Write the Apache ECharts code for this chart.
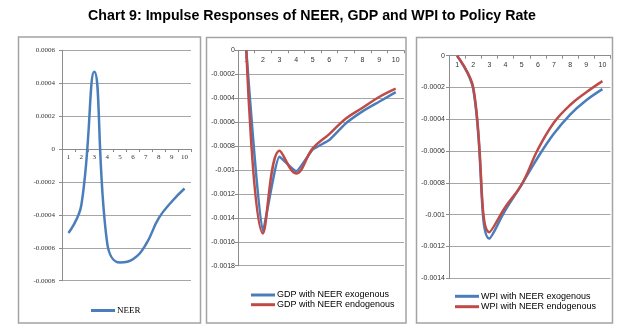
<!DOCTYPE html>
<html>
<head>
<meta charset="utf-8">
<script src="https://cdn.jsdelivr.net/npm/echarts@6/dist/echarts.min.js"></script>
<style>
  html, body { margin: 0; padding: 0; background: #fff; }
  #chart { width: 624px; height: 334px; }
</style>
</head>
<body>
<div id="chart"></div>
<script>
// Impulse response horizons (periods)
const periods = ['1', '2', '3', '4', '5', '6', '7', '8', '9', '10'];

// NEER response to a policy-rate shock
const neer = [-0.00051, -0.00034, 0.00047, -0.00057, -0.00069, -0.00067, -0.00058, -0.00042, -0.00032, -0.00024];

// GDP response, NEER treated as exogenous / endogenous
const gdpExogenous  = [0, -0.00151, -0.00089, -0.00101, -0.00083, -0.00075, -0.00061, -0.00051, -0.00043, -0.00035];
const gdpEndogenous = [0, -0.00153, -0.00084, -0.00103, -0.00082, -0.00070, -0.00057, -0.00048, -0.00039, -0.00032];

// WPI response, NEER treated as exogenous / endogenous
const wpiExogenous  = [0, -0.00021, -0.00115, -0.00097, -0.00081, -0.00064, -0.00049, -0.00037, -0.00028, -0.00021];
const wpiEndogenous = [0, -0.00020, -0.00111, -0.00095, -0.00081, -0.00059, -0.00042, -0.00031, -0.00023, -0.00016];

// Value-axis ranges for the three panels
const yRanges = [
  { min: -0.0008, max: 0.0006 },
  { min: -0.0018, max: 0 },
  { min: -0.0014, max: 0 }
];

// Plot areas of the three panels
const grids = [
  { left: 62, top: 50.3, width: 129, height: 230.4 },
  { left: 238, top: 50.3, width: 166, height: 215.4 },
  { left: 449, top: 55.7, width: 161.5, height: 222.6 }
];

const BLUE = '#4a7ebb';
const RED = '#be4b48';
const SERIF = '"Liberation Serif", "DejaVu Serif", serif';
const SANS = '"Liberation Sans", Arial, sans-serif';

const fmt = v => String(parseFloat(v.toFixed(6)));

// The category axis crosses the value axis at zero; lift it from the bottom edge to that level
function zeroOffset(idx) {
  const r = yRanges[idx];
  return -grids[idx].height * (0 - r.min) / (r.max - r.min);
}

function xAxisFor(idx, font, margin) {
  return {
    type: 'category', gridIndex: idx, data: periods, boundaryGap: true,
    position: 'bottom', offset: zeroOffset(idx),
    axisLine: { onZero: false, lineStyle: { color: '#8c8c8c', width: 1 } },
    axisTick: { show: true, length: 3, inside: false, lineStyle: { color: '#8c8c8c' } },
    axisLabel: { fontSize: 7, color: '#333', fontFamily: font, margin: margin, interval: 0 },
    splitLine: { show: false }
  };
}

function yAxisFor(idx, font, margin) {
  return {
    type: 'value', gridIndex: idx, min: yRanges[idx].min, max: yRanges[idx].max, interval: 0.0002,
    axisLine: { show: true, lineStyle: { color: '#8c8c8c', width: 1 } },
    axisTick: { show: true, length: 3, lineStyle: { color: '#8c8c8c' } },
    axisLabel: { fontSize: 7, color: '#333', fontFamily: font, margin: margin, formatter: fmt },
    splitLine: { show: true, lineStyle: { color: '#a6a6a6', width: 1 } }
  };
}

function lineSeries(name, idx, data, color, smooth) {
  return {
    name: name, type: 'line', xAxisIndex: idx, yAxisIndex: idx, data: data,
    smooth: smooth, symbol: 'none', showSymbol: false,
    lineStyle: { color: color, width: 2.5 }, itemStyle: { color: color }
  };
}

const legendIcon = 'path://M0,0 H24 V3 H0 Z';

const frame = (x, y, w, h) => ({
  type: 'rect', shape: { x: x, y: y, width: w, height: h },
  style: { fill: 'none', stroke: '#a3a3a3', lineWidth: 1.5 }, silent: true, z: -1
});

const chart = echarts.init(document.getElementById('chart'), null, { renderer: 'canvas' });

chart.setOption({
  backgroundColor: '#fff',
  animation: false,
  title: {
    text: 'Chart 9: Impulse Responses of NEER, GDP and WPI to Policy Rate',
    left: 'center', top: 4,
    textStyle: { fontSize: 14.2, fontWeight: 'bold', color: '#000', fontFamily: SANS }
  },
  graphic: [
    frame(18.5, 37, 182, 286),
    frame(206.5, 37.5, 199.5, 285.5),
    frame(416.5, 37.5, 196, 285.5)
  ],
  grid: grids.map(g => Object.assign({ containLabel: false }, g)),
  xAxis: [xAxisFor(0, SERIF, 5), xAxisFor(1, SANS, 6), xAxisFor(2, SANS, 6)],
  yAxis: [yAxisFor(0, SERIF, 7), yAxisFor(1, SANS, 3), yAxisFor(2, SANS, 4)],
  legend: [
    {
      data: ['NEER'], left: 86, top: 301, orient: 'vertical',
      icon: legendIcon, itemWidth: 24, itemHeight: 3, itemGap: 4,
      textStyle: { fontSize: 9, color: '#000', fontFamily: SERIF, padding: [0, 0, 0, -3] }
    },
    {
      data: ['GDP with NEER exogenous', 'GDP with NEER endogenous'],
      left: 246, top: 285.5, orient: 'vertical',
      icon: legendIcon, itemWidth: 24, itemHeight: 3, itemGap: 0.7,
      textStyle: { fontSize: 9, color: '#000', fontFamily: SANS, padding: [0, 0, 0, -3] }
    },
    {
      data: ['WPI with NEER exogenous', 'WPI with NEER endogenous'],
      left: 450, top: 286.8, orient: 'vertical',
      icon: legendIcon, itemWidth: 24, itemHeight: 3, itemGap: 1.4,
      textStyle: { fontSize: 9, color: '#000', fontFamily: SANS, padding: [0, 0, 0, -3] }
    }
  ],
  series: [
    lineSeries('NEER', 0, neer, BLUE, 0.45),
    lineSeries('GDP with NEER exogenous', 1, gdpExogenous, BLUE, 0.15),
    lineSeries('GDP with NEER endogenous', 1, gdpEndogenous, RED, 0.4),
    lineSeries('WPI with NEER exogenous', 2, wpiExogenous, BLUE, 0.4),
    lineSeries('WPI with NEER endogenous', 2, wpiEndogenous, RED, 0.4)
  ]
});
</script>
</body>
</html>
